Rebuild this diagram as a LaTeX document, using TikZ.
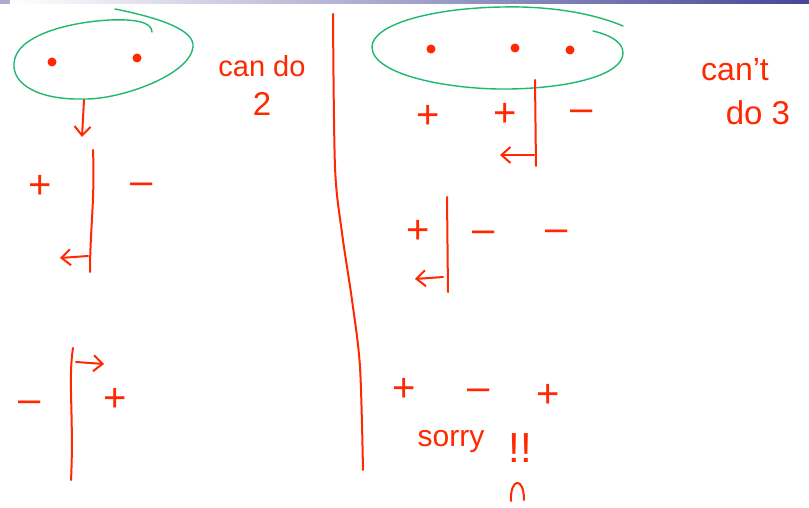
\documentclass[tikz,border=0pt]{standalone}
\usepackage{fontspec}
\setmainfont{Liberation Sans}
\usetikzlibrary{arrows.meta}
\definecolor{ink}{RGB}{255,40,0}
\definecolor{loopc}{RGB}{30,185,110}
\definecolor{barblue}{RGB}{70,70,150}
\definecolor{barlav}{RGB}{170,170,210}
\begin{document}
\begin{tikzpicture}[x=1pt,y=-1pt,
  inkline/.style={draw=ink, line width=2pt, line cap=round, line join=round},
  loopline/.style={draw=loopc, line width=1.4pt, line cap=round},
  txt/.style={text=ink, font=\fontsize{29}{32}\selectfont, inner sep=0pt},
  sign/.style={text=ink, font=\fontsize{40}{40}\selectfont, inner sep=0pt},
  dotmark/.style={circle, fill=ink, inner sep=0pt, minimum size=9pt},
  arr/.style={inkline, -{Straight Barb[length=9pt,width=16pt,line width=2pt]}}]
\useasboundingbox (0,0) rectangle (809,508);
\fill[white] (0,0) rectangle (809,508);
% top bar
\shade[left color=white, right color=barblue] (10,0) rectangle (809,4);
\fill[barlav] (0,0) rectangle (10,4);

% left loop
\draw[loopline] (115,9) .. controls (160,18) and (195,30) .. (193,47)
  .. controls (190,75) and (120,100) .. (83,99)
  .. controls (40,100) and (12,85) .. (14,63)
  .. controls (16,35) and (70,22) .. (110,20)
  .. controls (135,19) and (152,22) .. (152,32);
\node[dotmark] (la) at (52,62) {};
\node[dotmark] (lb) at (137,58) {};

% right loop
\draw[loopline] (623,26) .. controls (590,12) and (545,6) .. (503,7)
  .. controls (430,8) and (372,25) .. (372,47)
  .. controls (372,75) and (450,90) .. (510,89)
  .. controls (570,88) and (623,75) .. (623,53)
  .. controls (623,42) and (610,35) .. (593,31);
\node[dotmark] (ra) at (431,49) {};
\node[dotmark] (rb) at (515,48) {};
\node[dotmark] (rc) at (570,50) {};

% texts
\node[txt] (cando) at (262,66) {can do};
\node[txt, font=\fontsize{33}{34}\selectfont] (two) at (262,104) {2};
\node[txt, font=\fontsize{32}{34}\selectfont] (cant) at (735,70) {can't};
\node[txt, font=\fontsize{33}{34}\selectfont] (do3) at (758,113) {do 3};
\node[txt, font=\fontsize{30}{32}\selectfont] (sorry) at (451,442) {sorry};
\node[txt, font=\fontsize{42}{44}\selectfont] (bang) at (520,448) {!!};

% divider
\draw[inkline] plot[smooth] coordinates {(333,14) (335,167) (342,233) (352,300) (360,367) (363,470)};

% left section 1
\coordinate (e1) at (84,100);
\coordinate (e1b) at (82,137);
\draw[arr] (e1) -- (e1b);
\draw[inkline] (93,150) .. controls (95,200) and (90,230) .. (90,272);
\node[sign] (l1p) at (40,187) {+};
\node[sign] (l1m) at (142,189) {–};
\coordinate (l1a) at (88,256);
\coordinate (l1b) at (60,258);
\draw[arr] (l1a) -- (l1b);

% left section 2
\draw[inkline] (73,348) .. controls (68,380) and (74,420) .. (71,480);
\node[sign] (l2m) at (30,407) {–};
\node[sign] (l2p) at (115,400) {+};
\coordinate (l2a) at (76,362);
\coordinate (l2b) at (104,364);
\draw[arr] (l2a) -- (l2b);

% right section 1
\draw[inkline] (535,80) -- (536,166);
\node[sign] (r1p) at (428,117) {+};
\node[sign] (r1q) at (505,115) {+};
\node[sign] (r1m) at (582,116) {–};
\coordinate (r1a) at (534,155);
\coordinate (r1b) at (500,155);
\draw[arr] (r1a) -- (r1b);

% right section 2
\draw[inkline] (447,197) -- (448,292);
\node[sign] (r2p) at (418,232) {+};
\node[sign] (r2m) at (484,237) {–};
\node[sign] (r2n) at (557,236) {–};
\coordinate (r2a) at (443,277);
\coordinate (r2b) at (415,279);
\draw[arr] (r2a) -- (r2b);

% right section 3
\node[sign] (r3p) at (404,390) {+};
\node[sign] (r3m) at (479,395) {–};
\node[sign] (r3q) at (548,396) {+};
\draw[inkline] (511,501) .. controls (510,478) and (524,476) .. (524,500);
\end{tikzpicture}
\end{document}
